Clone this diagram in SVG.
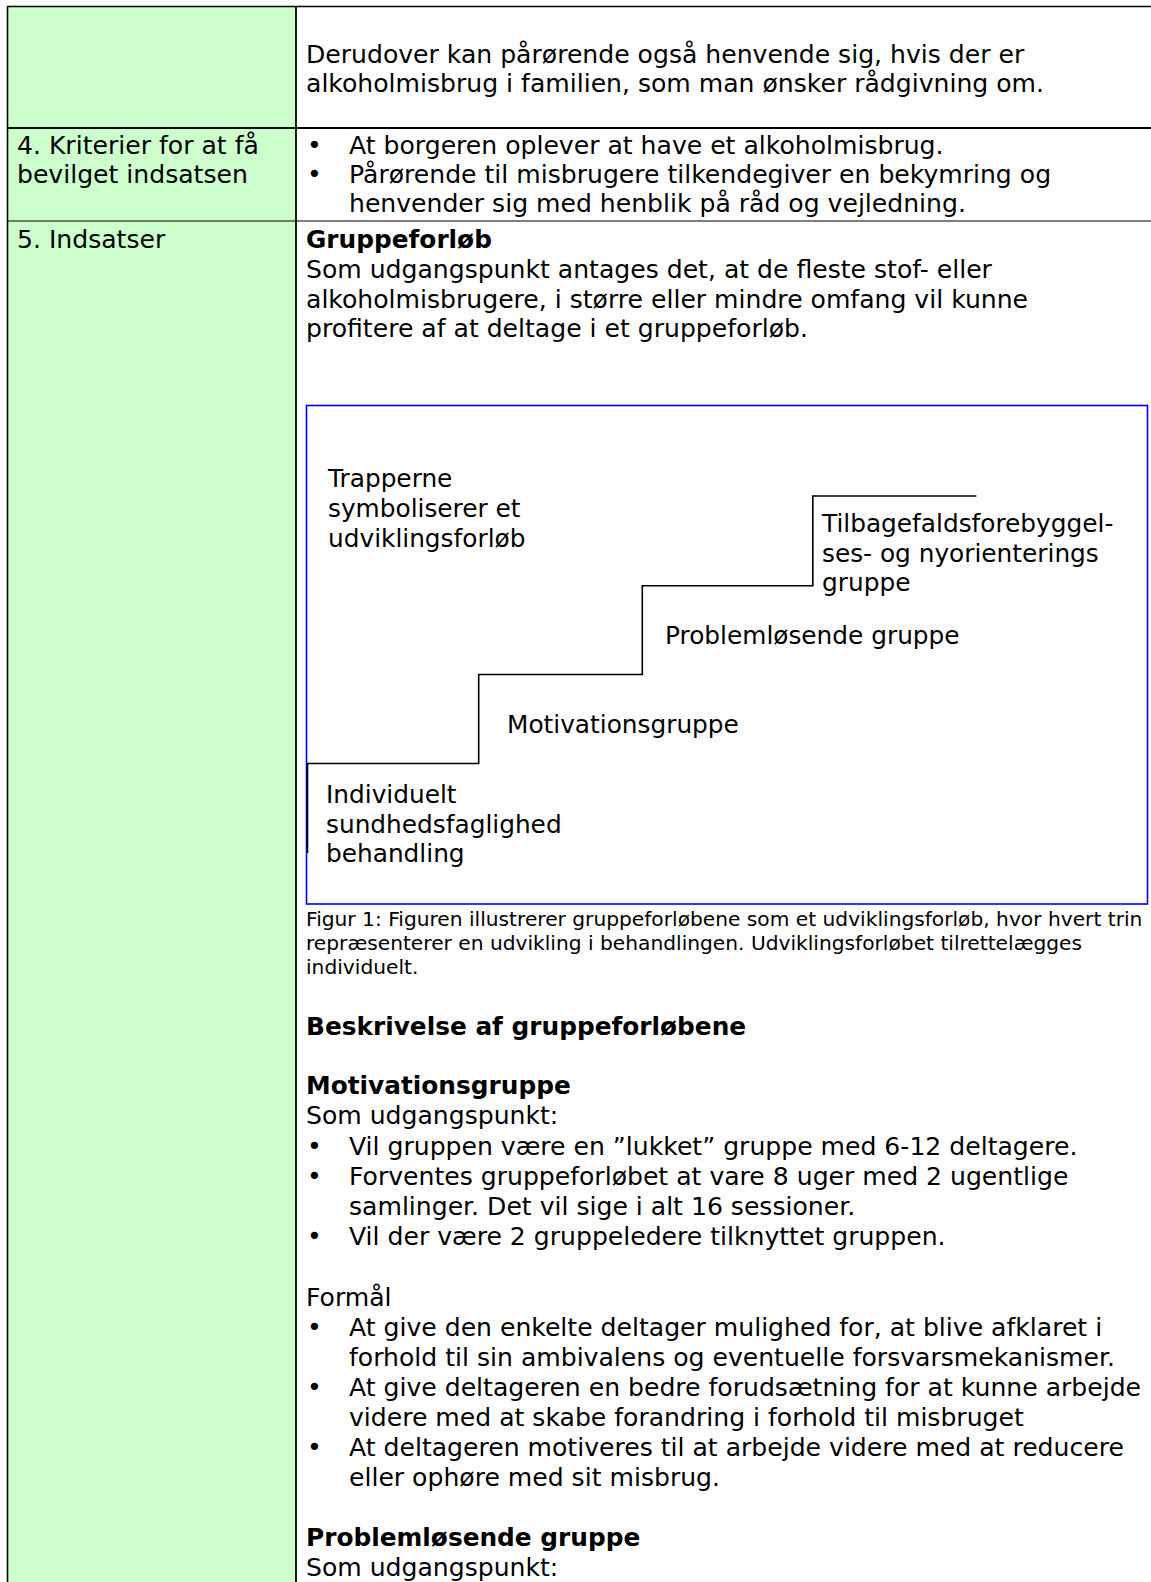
<svg xmlns="http://www.w3.org/2000/svg" width="1151" height="1582" viewBox="0 0 1151 1582">
<style>
  text { font-family: "DejaVu Sans", Verdana, sans-serif; font-size: 25.1px; fill: #000; }
  .b { font-weight: bold; font-size: 24.8px; }
  .fig { font-size: 24.8px; }
  .cap { font-size: 20.2px; }
  .grid { stroke: #000; fill: none; }
  .stair { stroke: #000; stroke-width: 1.6; fill: none; }
</style>
<rect x="0" y="0" width="1151" height="1582" fill="#fff"/>
<g id="table">
  <rect x="7" y="6" width="289" height="1576" fill="#CCFFCC"/>
  <line class="grid" x1="7" y1="6.5" x2="1151" y2="6.5" stroke-width="1.3"/>
  <line class="grid" x1="7.5" y1="6" x2="7.5" y2="1582" stroke-width="1.6"/>
  <line class="grid" x1="296" y1="6" x2="296" y2="1582" stroke-width="1.8"/>
  <line class="grid" x1="7" y1="128" x2="1151" y2="128" stroke-width="2"/>
  <line class="grid" x1="7" y1="221" x2="1151" y2="221" stroke-width="1.2"/>
</g>
<g id="row3">
  <text x="306" y="62.5">Derudover kan pårørende også henvende sig, hvis der er</text>
  <text x="306" y="91.5">alkoholmisbrug i familien, som man ønsker rådgivning om.</text>
</g>
<g id="row4">
  <text x="17" y="154">4. Kriterier for at få</text>
  <text x="17" y="183">bevilget indsatsen</text>
  <text x="307" y="154">•</text><text x="349" y="154">At borgeren oplever at have et alkoholmisbrug.</text>
  <text x="307" y="183">•</text><text x="349" y="183">Pårørende til misbrugere tilkendegiver en bekymring og</text>
  <text x="349" y="212">henvender sig med henblik på råd og vejledning.</text>
</g>
<g id="row5">
  <text x="17" y="248">5. Indsatser</text>
  <text class="b" x="306" y="248">Gruppeforløb</text>
  <text x="306" y="278">Som udgangspunkt antages det, at de fleste stof- eller</text>
  <text x="306" y="307.5">alkoholmisbrugere, i større eller mindre omfang vil kunne</text>
  <text x="306" y="337">profitere af at deltage i et gruppeforløb.</text>
</g>
<g id="figure">
  <rect x="306.5" y="405.5" width="841" height="498.5" fill="none" stroke="#0000FF" stroke-width="1.6"/>
  <g id="stairs">
    <polyline class="stair" points="307.5,853 307.5,763.5 478.7,763.5 478.7,674.5 642.3,674.5 642.3,585.7 812.8,585.7 812.8,496 976.4,496"/>
  </g>
  <g id="label-trapperne">
    <text class="fig" x="328" y="487">Trapperne</text>
    <text class="fig" x="328" y="517">symboliserer et</text>
    <text class="fig" x="328" y="547">udviklingsforløb</text>
  </g>
  <g id="label-tilbagefald">
    <text class="fig" x="822" y="532">Tilbagefaldsforebyggel-</text>
    <text class="fig" x="822" y="562">ses- og nyorienterings</text>
    <text class="fig" x="822" y="591">gruppe</text>
  </g>
  <g id="label-problem">
    <text class="fig" x="665" y="644">Problemløsende gruppe</text>
  </g>
  <g id="label-motivation">
    <text class="fig" x="507" y="733">Motivationsgruppe</text>
  </g>
  <g id="label-individuelt">
    <text class="fig" x="326" y="803">Individuelt</text>
    <text class="fig" x="326" y="833">sundhedsfaglighed</text>
    <text class="fig" x="326" y="862">behandling</text>
  </g>
</g>
<g id="caption">
  <text class="cap" x="306" y="926">Figur 1: Figuren illustrerer gruppeforløbene som et udviklingsforløb, hvor hvert trin</text>
  <text class="cap" x="306" y="950">repræsenterer en udvikling i behandlingen. Udviklingsforløbet tilrettelægges</text>
  <text class="cap" x="306" y="974">individuelt.</text>
</g>
<g id="description">
  <text class="b" x="306" y="1035">Beskrivelse af gruppeforløbene</text>
  <text class="b" x="306" y="1094">Motivationsgruppe</text>
  <text x="306" y="1124">Som udgangspunkt:</text>
  <text x="307" y="1155">•</text><text x="349" y="1155">Vil gruppen være en ”lukket” gruppe med 6-12 deltagere.</text>
  <text x="307" y="1185">•</text><text x="349" y="1185">Forventes gruppeforløbet at vare 8 uger med 2 ugentlige</text>
  <text x="349" y="1215">samlinger. Det vil sige i alt 16 sessioner.</text>
  <text x="307" y="1245">•</text><text x="349" y="1245">Vil der være 2 gruppeledere tilknyttet gruppen.</text>
  <text x="306" y="1306">Formål</text>
  <text x="307" y="1336">•</text><text x="349" y="1336">At give den enkelte deltager mulighed for, at blive afklaret i</text>
  <text x="349" y="1366">forhold til sin ambivalens og eventuelle forsvarsmekanismer.</text>
  <text x="307" y="1396">•</text><text x="349" y="1396">At give deltageren en bedre forudsætning for at kunne arbejde</text>
  <text x="349" y="1426">videre med at skabe forandring i forhold til misbruget</text>
  <text x="307" y="1456">•</text><text x="349" y="1456">At deltageren motiveres til at arbejde videre med at reducere</text>
  <text x="349" y="1486">eller ophøre med sit misbrug.</text>
  <text class="b" x="306" y="1546">Problemløsende gruppe</text>
  <text x="306" y="1576">Som udgangspunkt:</text>
</g>
</svg>
